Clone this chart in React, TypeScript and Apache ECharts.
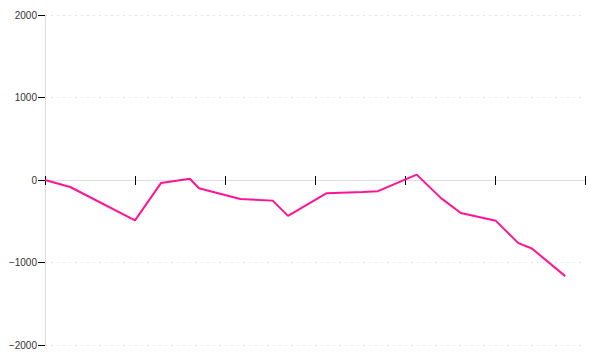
import React, { useEffect, useRef } from "react";
import * as echarts from "echarts";

const xValues = [0, 0.28, 1.0, 1.29, 1.61, 1.71, 2.17, 2.53, 2.7, 3.13, 3.53, 3.7, 4.13, 4.4, 4.62, 5.01, 5.26, 5.41, 5.78];
const yValues = [0, -85, -490, -35, 15, -100, -230, -250, -435, -160, -145, -135, 65, -220, -400, -495, -765, -830, -1165];
const yTicks = [-2000, -1000, 0, 1000, 2000];

export default function App() {
  const ref = useRef<HTMLDivElement>(null);
  useEffect(() => {
    if (!ref.current) return;
    const chart = echarts.init(ref.current, null, { renderer: "svg" });
    const data = xValues.map((x, i) => [x, yValues[i]]);
    const yMin = yTicks[0];
    const yMax = yTicks[yTicks.length - 1];
    chart.setOption({
      animation: false,
      grid: { left: 45, right: 15, top: 15, bottom: 15, containLabel: false },
      xAxis: [
        {
          type: "value",
          min: 0,
          max: 6,
          interval: 1,
          position: "bottom",
          axisLine: { show: true, onZero: true, lineStyle: { color: "#dddddd", width: 1 } },
          axisTick: { show: true, length: 5, lineStyle: { color: "#000000" } },
          axisLabel: { show: false },
          splitLine: { show: false },
        },
        {
          type: "value",
          min: 0,
          max: 6,
          interval: 1,
          position: "top",
          axisLine: { show: true, onZero: true, lineStyle: { color: "#dddddd", width: 1 } },
          axisTick: { show: true, length: 4, lineStyle: { color: "#000000" } },
          axisLabel: { show: false },
          splitLine: { show: false },
        },
      ],
      yAxis: [
        {
          type: "value",
          min: yMin,
          max: yMax,
          interval: 1000,
          axisLine: { show: true, onZero: false, lineStyle: { color: "#dddddd", width: 1 } },
          axisTick: { show: true, length: 7, lineStyle: { color: "#000000" } },
          axisLabel: {
            show: true,
            margin: 8,
            color: "#333333",
            fontSize: 10,
            fontFamily: "Liberation Sans, Arial, sans-serif",
            formatter: (v: number) => (v < 0 ? "\u2212" + Math.abs(v) : String(v)),
          },
          splitLine: { show: true, lineStyle: { color: "#e6e6e6", type: [2, 4], width: 1 } },
        },
        {
          type: "value",
          min: yMin,
          max: yMax,
          interval: 1000,
          position: "right",
          axisLine: { show: false, onZero: false },
          axisTick: { show: false },
          axisLabel: { show: false },
          splitLine: { show: false },
        },
      ],
      series: [
        {
          type: "line",
          data,
          xAxisIndex: 0,
          yAxisIndex: 0,
          showSymbol: false,
          symbol: "none",
          lineStyle: { color: "#ff1493", width: 2 },
          itemStyle: { color: "#ff1493" },
        },
        {
          type: "line",
          data: [],
          xAxisIndex: 1,
          yAxisIndex: 1,
          showSymbol: false,
          symbol: "none",
        },
      ],
    });
    return () => chart.dispose();
  }, []);
  return <div ref={ref} style={{ position: "absolute", left: 0, top: 0, width: 600, height: 360 }} />;
}
